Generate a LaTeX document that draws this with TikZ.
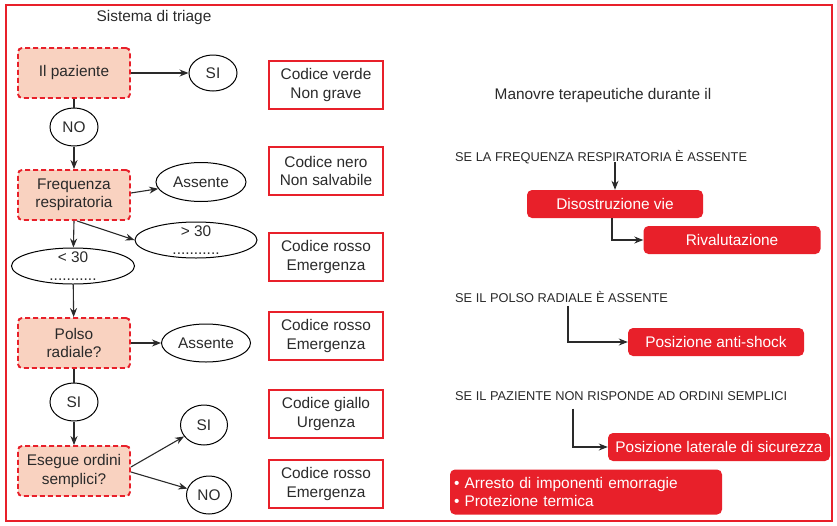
\documentclass[tikz,border=0pt]{standalone}
\usepackage{fontspec}
\setmainfont{Liberation Sans}
\usetikzlibrary{shapes.geometric,arrows.meta}
\definecolor{triagered}{HTML}{E8202A}
\definecolor{triagepink}{HTML}{F9D2C0}
\definecolor{triagetext}{HTML}{2A2A2A}
\begin{document}
\begin{tikzpicture}[x=1pt,y=-1pt]
  \tikzstyle{every node}=[text=triagetext,font=\fontsize{15.4}{18.5}\selectfont,align=center]
  \tikzstyle{question}=[draw=triagered,dash pattern=on 5pt off 3pt,line width=1.9pt,fill=triagepink,rounded corners=4pt,minimum width=112pt,minimum height=50pt,inner sep=1pt]
  \tikzstyle{answer}=[draw,ellipse,line width=1pt,inner sep=0pt]
  \tikzstyle{code}=[draw=triagered,line width=2.5pt,minimum width=114pt,minimum height=48pt,inner sep=1pt]
  \tikzstyle{action}=[fill=triagered,text=white,rounded corners=5pt,minimum height=28pt,inner sep=2pt]
  \tikzstyle{cond}=[anchor=west,inner sep=0pt,font=\fontsize{12.8}{15}\selectfont]
  \tikzstyle{flow}=[-{Stealth[length=9pt,width=7pt]},line width=1.1pt,triagetext]
  \useasboundingbox (0,0) rectangle (837,525);
  \draw [triagered,line width=2pt] (6,5) rectangle (832,521);

  % triage
  \node (title) at (154,18) {Sistema di triage};
  \node [question] (paz)  at (74,73)  {Il paziente};
  \node [question] (freq) at (74,195) {Frequenza\\respiratoria};
  \node [question] (pol)  at (74,343) {Polso\\radiale?};
  \node [question] (ord)  at (74,471) {Esegue ordini\\semplici?};
  \node [answer,minimum width=48pt,minimum height=36pt]  (si1)  at (213,73)  {SI};
  \node [answer,minimum width=48pt,minimum height=38pt]  (no1)  at (74,127)  {NO};
  \node [answer,minimum width=90pt,minimum height=39pt]  (ass1) at (201,182) {Assente};
  \node [answer,minimum width=122pt,minimum height=36pt,inner ysep=-3.5pt] (gt30) at (196,240) {> 30\\[-1pt]...........};
  \node [answer,minimum width=123pt,minimum height=36pt,inner ysep=-3.5pt] (lt30) at (73,266)  {< 30\\[-1pt]...........};
  \node [answer,minimum width=89pt,minimum height=38pt]  (ass2) at (206,343) {Assente};
  \node [answer,minimum width=48pt,minimum height=38pt]  (si2)  at (74,402)  {SI};
  \node [answer,minimum width=47pt,minimum height=40pt]  (si3)  at (204,425) {SI};
  \node [answer,minimum width=45pt,minimum height=38pt]  (no2)  at (209,495) {NO};
  \draw [flow] (paz) -- (si1);
  \draw [line width=1.1pt,triagetext] (paz) -- (no1);
  \draw [flow] (no1) -- (freq);
  \draw [flow] ([yshift=2pt]freq.east) -- (ass1);
  \draw [flow] ([xshift=3pt]freq.south) -- (gt30.west);
  \draw [flow] (freq.south) -- (lt30);
  \draw [flow] (lt30) -- (pol);
  \draw [flow] (pol) -- (ass2);
  \draw [line width=1.1pt,triagetext] (pol) -- (si2);
  \draw [flow] (si2) -- (ord);
  \draw [flow] ([yshift=4pt]ord.east) -- (si3);
  \draw [flow] ([yshift=-1pt]ord.east) -- (no2);

  % codici
  \node [code] (verde)  at (326,85)  {Codice verde\\Non grave};
  \node [code] (nero)   at (326,171) {Codice nero\\Non salvabile};
  \node [code] (rosso1) at (326,257) {Codice rosso\\Emergenza};
  \node [code] (rosso2) at (326,336) {Codice rosso\\Emergenza};
  \node [code] (giallo) at (326,414) {Codice giallo\\Urgenza};
  \node [code] (rosso3) at (326,484) {Codice rosso\\Emergenza};

  % manovre
  \node (man) at (603,96) {Manovre terapeutiche durante il};
  \node [cond] (c1) at (455,157) {SE LA FREQUENZA RESPIRATORIA È ASSENTE};
  \node [action,minimum width=176pt] (dis) at (615,204) {Disostruzione vie};
  \node [action,minimum width=177pt] (riv) at (732,240) {Rivalutazione};
  \draw [flow] (dis.north |- c1.south) ++(0,-2) -- (dis.north);
  \draw [flow] ([xshift=-3pt]dis.south) |- (riv.west);
  \node [cond] (c2) at (455,297) {SE IL POLSO RADIALE È ASSENTE};
  \node [action,minimum width=176pt] (anti) at (716,342) {Posizione anti-shock};
  \draw [flow] ([xshift=113pt,yshift=-3pt]c2.south west) |- (anti.west);
  \node [cond] (c3) at (455,396) {SE IL PAZIENTE NON RISPONDE AD ORDINI SEMPLICI};
  \node [action,minimum width=222pt] (lat) at (719,447) {Posizione laterale di sicurezza};
  \draw [flow] ([xshift=118pt,yshift=-8pt]c3.south west) |- (lat.west);
  \node [action,minimum width=272pt,minimum height=45pt,align=left,text width=264pt,font=\fontsize{15.4}{17.5}\selectfont] (emo) at (586,492)
    {• Arresto di imponenti emorragie\\• Protezione termica};
\end{tikzpicture}
\end{document}
